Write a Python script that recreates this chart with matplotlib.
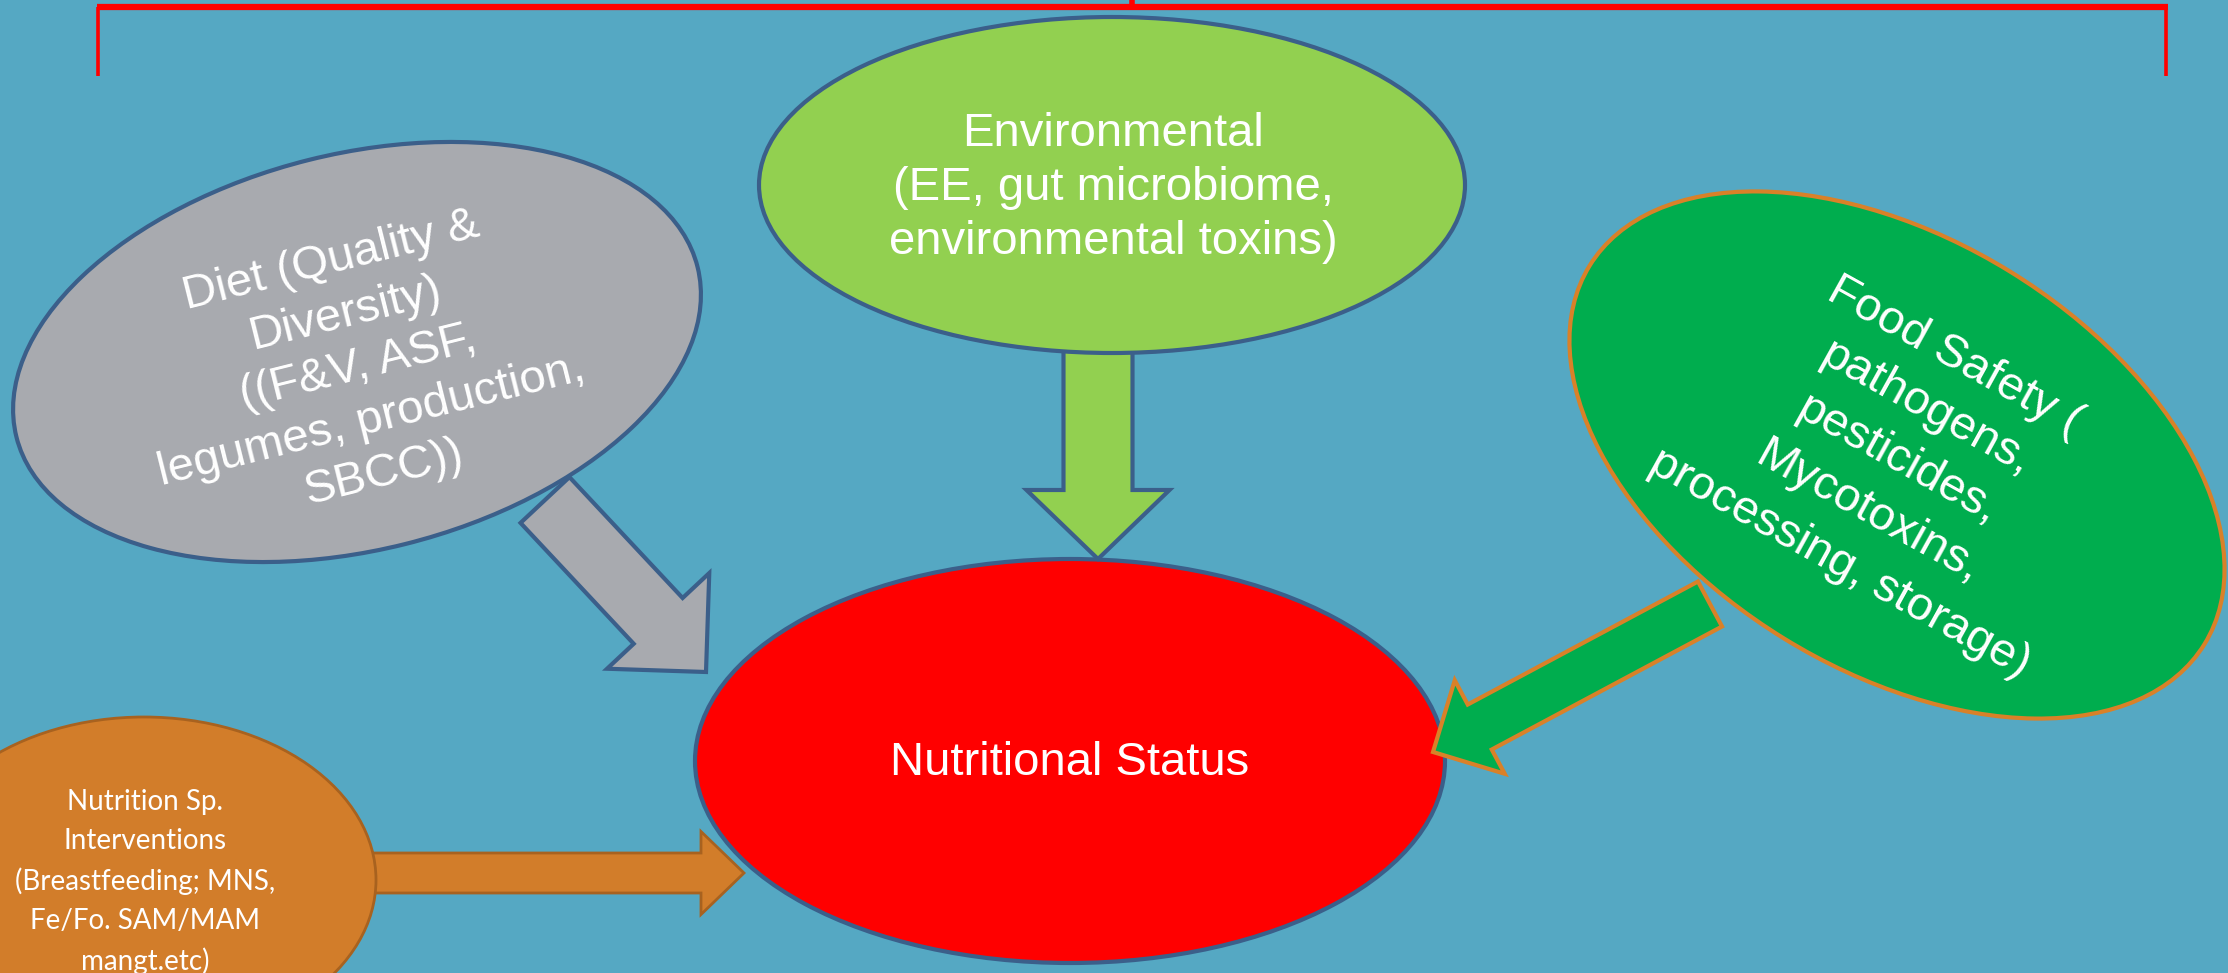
import numpy as np
import matplotlib.pyplot as plt
from matplotlib.patches import Ellipse, Polygon

plt.rcParams['font.family'] = ['Liberation Sans', 'DejaVu Sans']

# Node texts
center_label = "Nutritional Status"
source_labels = [
    "Environmental\n(EE, gut microbiome,\nenvironmental toxins)",
    "Diet (Quality &\nDiversity)\n((F&V, ASF,\nlegumes, production,\nSBCC))",
    "Food Safety (\npathogens,\npesticides,\nMycotoxins,\nprocessing, storage)",
    "Nutrition Sp.\nInterventions\n(Breastfeeding; MNS,\nFe/Fo. SAM/MAM\nmangt.etc)",
]
source_fill = ["#92D050", "#A8AAAF", "#00AD4E", "#D27D2A"]
source_edge = ["#3B5F8A", "#3B5F8A", "#D98128", "#A8621F"]

bg = "#55A8C3"
W, H = 2228, 973

# layout (pixel coordinates of the slide)
ell_center = [(1112, 185), (357, 352), (1897, 455), (144, 880)]
ell_size = [(706, 336), (702, 396), (722, 431), (464, 326)]
ell_angle = [0, -14, 31.6, 0]
txt_pos = [(1113, 188), (358, 367), (1897, 460), (145, 882)]
txt_rot = [0, 14, -29, 0]
txt_size = [34, 34, 34, 20]
txt_spacing = [1.3, 1.32, 1.45, 1.6]

# arrows: start, tip, shaft width, head width, head length
arrows = [
    ((1098, 345), (1098, 559), 69, 143, 69),
    ((545, 500), (706, 672), 67, 140, 70),
    ((1710, 604), (1433, 752), 51, 106, 53),
    ((370, 873), (744, 873), 40, 83, 43),
]


def block_arrow(start, tip, shaft_w, head_w, head_l, **kw):
    start = np.array(start, float)
    tip = np.array(tip, float)
    d = tip - start
    u = d / np.hypot(*d)
    n = np.array([-u[1], u[0]])
    base = tip - u * head_l
    pts = [start + n * shaft_w / 2, base + n * shaft_w / 2, base + n * head_w / 2,
           tip, base - n * head_w / 2, base - n * shaft_w / 2, start - n * shaft_w / 2]
    return Polygon(pts, closed=True, joinstyle='miter', **kw)


fig = plt.figure(figsize=(22.28, 9.73), dpi=100, facecolor=bg)
ax = fig.add_axes([0, 0, 1, 1])
ax.set_facecolor(bg)
ax.set_xlim(0, W)
ax.set_ylim(H, 0)
ax.axis('off')

# top bracket
ax.plot([97, 2168], [7, 7], color='red', lw=4.5, solid_capstyle='butt')
ax.plot([98, 98], [7, 76], color='red', lw=2.6, solid_capstyle='butt')
ax.plot([2166, 2166], [7, 76], color='red', lw=2.6, solid_capstyle='butt')
ax.plot([1132, 1132], [0, 7], color='red', lw=4, solid_capstyle='butt')

# central node
ax.add_patch(Ellipse((1070, 761), 750, 404, facecolor='#FF0000', edgecolor='#3B5F8A',
                     lw=3, zorder=1))
ax.text(1070, 763, center_label, color='white', fontsize=34, ha='center', va='center',
        zorder=5)

for i, lab in enumerate(source_labels):
    ax.add_patch(Ellipse(ell_center[i], *ell_size[i], angle=ell_angle[i],
                         facecolor=source_fill[i], edgecolor=source_edge[i],
                         lw=3 if i < 3 else 2, zorder=3))
    s, t, sw, hw, hl = arrows[i]
    ax.add_patch(block_arrow(s, t, sw, hw, hl, facecolor=source_fill[i],
                             edgecolor=source_edge[i], lw=3 if i < 3 else 2, zorder=2))
    fam = ['Lato', 'DejaVu Sans'] if i == 3 else ['Liberation Sans', 'DejaVu Sans']
    ax.text(*txt_pos[i], lab, color='white', fontsize=txt_size[i], family=fam,
            ha='center', va='center', multialignment='center', rotation=txt_rot[i],
            rotation_mode='anchor', linespacing=txt_spacing[i], zorder=5)

fig.savefig('out.png', dpi=100, facecolor=bg)
